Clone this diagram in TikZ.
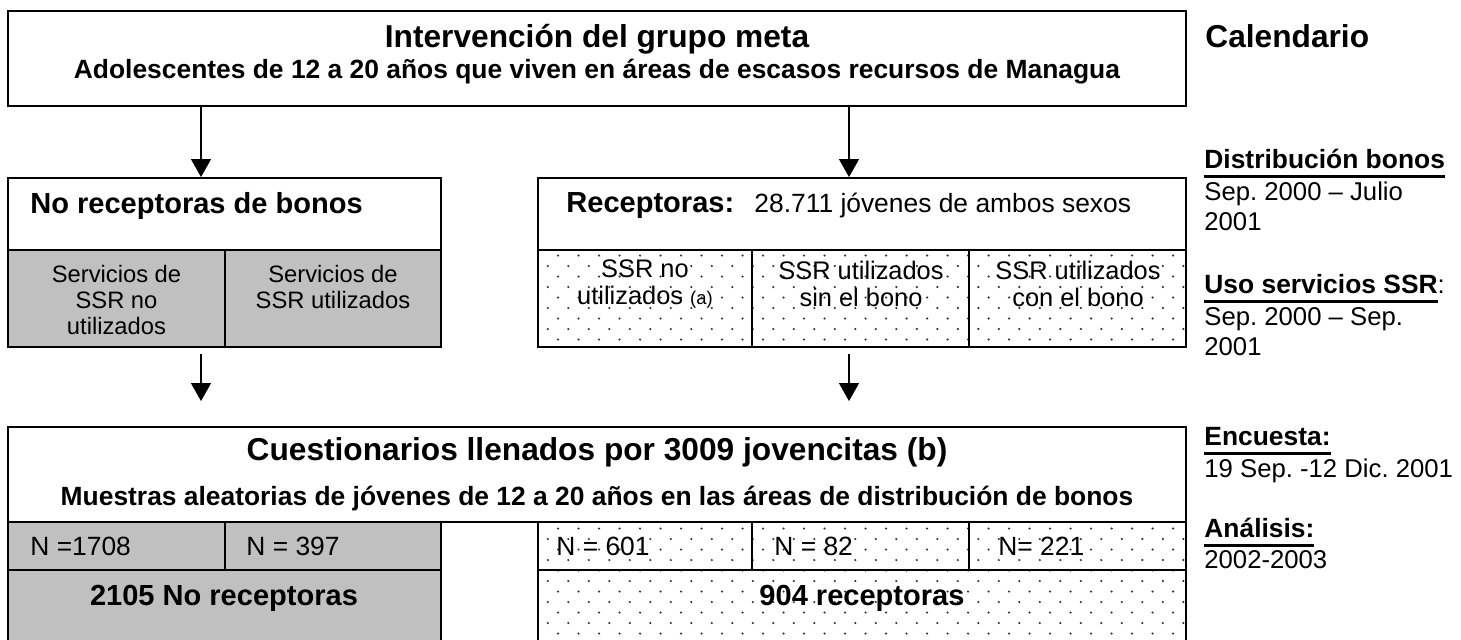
\documentclass[tikz,border=0pt]{standalone}
\usepackage{fontspec}
\setmainfont{Liberation Sans}
\usetikzlibrary{arrows.meta,fit}
\definecolor{grisbox}{HTML}{C0C0C0}
\definecolor{punto}{HTML}{333333}
\newcommand{\ulhead}[1]{\setbox0\hbox{#1}\rlap{\rule[-4.75pt]{\wd0}{1.5pt}}\box0}
\frenchspacing

\begin{document}
\begin{tikzpicture}[x=0.5pt,y=-0.5pt,line join=miter,
  caja/.style={draw,line width=1pt,inner sep=0pt},
  flecha/.style={line width=0.75pt,-{Triangle[length=9pt,width=10pt]}},
  big/.style={font=\fontsize{15.84}{18}\selectfont\bfseries,inner sep=0pt},
  mid/.style={font=\fontsize{14.52}{17}\selectfont\bfseries,inner sep=0pt},
  sub/.style={font=\fontsize{13.2}{15}\selectfont\bfseries,inner sep=0pt},
  txt/.style={font=\fontsize{13.2}{15}\selectfont,inner sep=0pt},
  fecha/.style={font=\fontsize{12.85}{15}\selectfont,inner sep=0pt},
  chico/.style={font=\fontsize{11.88}{13}\selectfont,align=center,inner sep=0pt},
  medio/.style={font=\fontsize{12.7}{13.8}\selectfont,align=center,inner sep=0pt}]

\useasboundingbox (0,0) rectangle (1461,639);
\clip (0,0) rectangle (1461,639);

% fondos
\fill[grisbox] (8,250) rectangle (441,347);
\fill[grisbox] (8,522) rectangle (441,645);
\begin{scope}
\clip (538,250) rectangle (1186,347) (538,522) rectangle (1186,645);
\foreach \j in {0,...,37}
  \foreach \i in {0,...,31}
    \fill[punto] ({547.8+20.5*\i+10.25*mod(\j+1,2)},{255.5+10.5*\j}) circle[radius=0.6pt];
\end{scope}

% cajas
\node[caja,fit={(8,11) (1186,106)}] (meta) {};
\node[caja,fit={(8,178) (441,347)}] (norec) {};
\node[caja,fit={(538,178) (1186,347)}] (rec) {};
\node[caja,fit={(8,427) (1186,645)}] (cuest) {};

\draw[line width=1pt] (8,250) -- (441,250) (225,250) -- (225,347);
\draw[line width=1pt] (538,250) -- (1186,250) (752,250) -- (752,347) (969,250) -- (969,347);
\draw[line width=1pt] (8,522) -- (1186,522) (8,570) -- (441,570) (538,570) -- (1186,570)
  (441,522) -- (441,645) (538,522) -- (538,645)
  (225,522) -- (225,570) (752,522) -- (752,570) (969,522) -- (969,570);

% flechas
\coordinate (colL) at (201,0);
\coordinate (colR) at (849,0);
\draw[flecha] (meta.south -| colL) -- (norec.north -| colL);
\draw[flecha] (meta.south -| colR) -- (rec.north -| colR);
\draw[flecha,shorten <=3pt,shorten >=12.5pt] (norec.south -| colL) -- (cuest.north -| colL);
\draw[flecha,shorten <=3pt,shorten >=12.5pt] (rec.south -| colR) -- (cuest.north -| colR);

% textos
\node[big,anchor=base] (metaT) at (597,47) {Intervención del grupo meta};
\node[sub,anchor=base] (metaS) at (597,78) {Adolescentes de 12 a 20 años que viven en áreas de escasos recursos de Managua};

\node[mid,anchor=base west] (norecT) at (30,213) {No receptoras de bonos};
\node[chico] (norecA) at (116.5,300) {Servicios de\\SSR no\\utilizados};
\node[chico] (norecB) at (333,287) {Servicios de\\SSR utilizados};

\node[mid,anchor=base west] (recT) at (566,212) {Receptoras:};
\node[txt,anchor=base west] (recN) at (754,212) {28.711 jóvenes de ambos sexos};
\node[medio] (recA) at (645,284) {SSR no\\utilizados {\fontsize{9.24}{10}\selectfont(a)}};
\node[medio] (recB) at (861,284) {SSR utilizados\\sin el bono};
\node[medio] (recC) at (1078,284) {SSR utilizados\\con el bono};

\node[big,anchor=base] (cuestT) at (597,460) {Cuestionarios llenados por 3009 jovencitas (b)};
\node[sub,anchor=base] (cuestS) at (597,505) {Muestras aleatorias de jóvenes de 12 a 20 años en las áreas de distribución de bonos};
\node[txt,anchor=base west] (n1) at (30,555) {N =1708};
\node[txt,anchor=base west] (n2) at (246,555) {N = 397};
\node[txt,anchor=base west] (n3) at (556,555) {N = 601};
\node[txt,anchor=base west] (n4) at (774,555) {N = 82};
\node[txt,anchor=base west] (n5) at (998,555) {N= 221};
\node[mid,anchor=base] (totNo) at (224,605) {2105 No receptoras};
\node[mid,anchor=base] (totSi) at (862,605) {904 receptoras};

% calendario
\node[big,anchor=base west] (cal) at (1205,47) {Calendario};
\node[sub,anchor=base west] (distH) at (1204,168) {\ulhead{Distribución bonos}};
\node[fecha,anchor=base west] (distA) at (1204,200) {Sep. 2000 – Julio};
\node[fecha,anchor=base west] (distB) at (1204,230) {2001};
\node[fecha,anchor=base west] (usoH) at (1204,293) {\ulhead{\fontsize{13.2}{15}\selectfont\bfseries Uso servicios SSR}:};
\node[fecha,anchor=base west] (usoA) at (1204,325) {Sep. 2000 – Sep.};
\node[fecha,anchor=base west] (usoB) at (1204,355) {2001};
\node[sub,anchor=base west] (encH) at (1204,445) {\ulhead{Encuesta:}};
\node[fecha,anchor=base west] (encA) at (1204,477) {19 Sep. -12 Dic. 2001};
\node[sub,anchor=base west] (anaH) at (1204,537) {\ulhead{Análisis:}};
\node[fecha,anchor=base west] (anaA) at (1204,568) {2002-2003};
\end{tikzpicture}
\end{document}
